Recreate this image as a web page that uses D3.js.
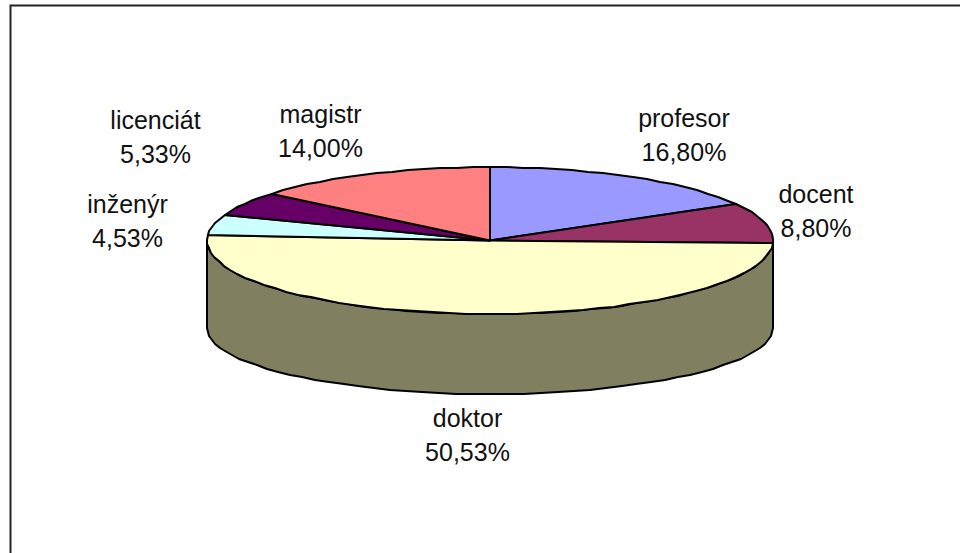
<!DOCTYPE html>
<meta charset="utf-8">
<style>
  body { margin: 0; background: #fff; }
  text { font-family: "Liberation Sans", Arial, sans-serif; font-size: 25px; fill: #111; }
</style>
<script src="https://d3js.org/d3.v7.min.js"></script>
<div id="my_dataviz"></div>
<script>

// data
var categories = ["profesor", "docent", "doktor", "inženýr", "licenciát", "magistr"]
var shares = [16.80, 8.80, 50.53, 4.53, 5.33, 14.00]
var shareLabels = ["16,80%", "8,80%", "50,53%", "4,53%", "5,33%", "14,00%"]
var colors = ["#9999ff", "#993366", "#ffffcc", "#ccffff", "#660066", "#ff8080"]

var width = 960
var height = 553

var svg = d3.select("#my_dataviz")
  .append("svg")
    .attr("width", width)
    .attr("height", height)
    .style("display", "block")

// chart frame: only top and left edges are visible in the picture
svg.append("path")
  .attr("d", "M10.5,553V5.5H960")
  .attr("fill", "none")
  .attr("stroke", "#222")
  .attr("stroke-width", 2)

// unit circle -> tilted ellipse on the page, the lower rim is a bit flatter
var x = d3.scaleLinear().domain([-1, 1]).range([207, 773])
var y = d3.scaleLinear().domain([-1, 1]).range([167, 314])
var yLow = d3.scaleLinear().domain([-1, 1]).range([262, 394])

var pie = d3.pie().sort(null).value(function(d) { return d })
var arcs = pie(shares)

// whole pixels and a coarse step give the rough rim of the original
function rim(a0, a1, ys) {
  var n = Math.max(2, Math.round((a1 - a0) / 0.06))
  return d3.range(n + 1).map(function(i) {
    var a = a0 + (a1 - a0) * i / n
    return [Math.round(x(Math.sin(a))), Math.round(ys(-Math.cos(a)))]
  })
}

var line = d3.line()

// side wall under the front half
svg.append("path")
  .attr("d", line(rim(Math.PI / 2, 3 * Math.PI / 2, y).concat(rim(Math.PI / 2, 3 * Math.PI / 2, yLow).reverse())) + "Z")
  .attr("fill", "#808060")
  .attr("stroke", "#000")
  .attr("stroke-width", 2)
  .attr("stroke-linejoin", "round")

// top face slices
svg.selectAll("path.slice")
  .data(arcs)
  .enter()
  .append("path")
    .attr("class", "slice")
    .attr("d", function(d) {
      return line([[x(0), y(0)]].concat(rim(d.startAngle, d.endAngle, y))) + "Z"
    })
    .attr("fill", function(d, i) { return colors[i] })
    .attr("stroke", "#000")
    .attr("stroke-width", 2)
    .attr("stroke-linejoin", "round")

// labels, placed around the pie
var labelX = [684, 816, 467.5, 127.5, 155.5, 320.5]
var labelY = [127, 203, 427, 213, 129, 123]

var label = svg.selectAll("text.label")
  .data(categories)
  .enter()
  .append("text")
    .attr("class", "label")
    .attr("text-anchor", "middle")
    .attr("x", function(d, i) { return labelX[i] })
    .attr("y", function(d, i) { return labelY[i] })

label.append("tspan")
  .text(function(d) { return d })

label.append("tspan")
  .attr("x", function(d, i) { return labelX[i] })
  .attr("dy", 34)
  .text(function(d, i) { return shareLabels[i] })

</script>
